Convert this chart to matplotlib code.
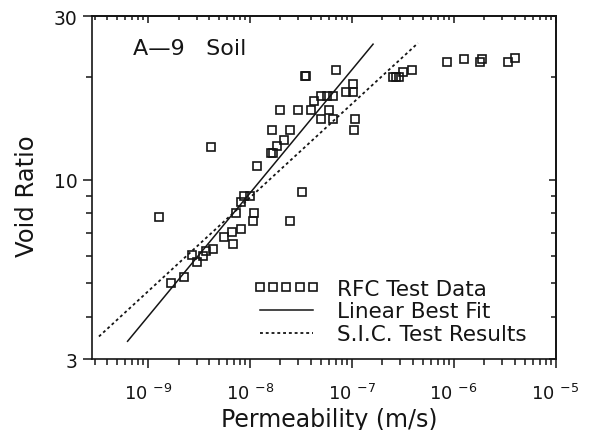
import matplotlib
matplotlib.use("Agg")
import matplotlib.pyplot as plt
from matplotlib.ticker import FixedLocator, NullFormatter, FixedFormatter

# ---------------- data ----------------
perm = [1.29e-9, 1.70e-9, 2.26e-9, 2.74e-9, 3.00e-9, 3.46e-9, 3.70e-9, 4.39e-9,
        5.56e-9, 6.89e-9, 6.74e-9, 8.11e-9, 7.38e-9, 1.09e-8, 1.07e-8, 2.49e-8,
        8.11e-9, 8.73e-9, 1.0e-8, 3.23e-8, 1.17e-8, 4.15e-9, 1.60e-8, 1.69e-8,
        1.87e-8, 2.17e-8, 1.67e-8, 2.47e-8, 1.97e-8, 2.96e-8, 4.03e-8, 5.98e-8,
        4.26e-8, 4.97e-8, 5.69e-8, 6.51e-8, 4.97e-8, 6.51e-8, 1.07e-7, 1.06e-7,
        8.87e-8, 1.02e-7, 1.02e-7, 6.97e-8, 3.50e-8, 3.60e-8, 2.52e-7, 2.70e-7,
        2.89e-7, 3.18e-7, 3.94e-7, 8.54e-7, 1.26e-6, 1.80e-6, 1.90e-6, 3.40e-6,
        3.98e-6]
void = [7.80, 5.01, 5.21, 6.03, 5.77, 5.99, 6.23, 6.31, 6.80, 6.52, 7.04, 7.20,
        8.03, 8.03, 7.60, 7.61, 8.64, 9.01, 9.01, 9.22, 10.99, 12.48, 11.99, 11.99,
        12.54, 13.08, 14.02, 14.02, 16.01, 16.01, 16.01, 16.01, 17.0, 17.53, 17.53,
        17.53, 15.04, 15.04, 15.04, 14.03, 18.0, 18.0, 18.99, 20.97, 20.03, 20.03,
        19.98, 19.98, 19.98, 20.59, 20.97, 22.0, 22.47, 22.0, 22.57, 22.1, 22.6]

fit_perm = [6.32e-10, 1.62e-7]
fit_void = [3.39, 24.87]
sic_perm = [3.31e-10, 4.47e-7]
sic_void = [3.50, 25.05]

x_major = [1e-9, 1e-8, 1e-7, 1e-6, 1e-5]
x_labels = ["10 $^{-9}$", "10 $^{-8}$", "10 $^{-7}$", "10 $^{-6}$", "10 $^{-5}$"]
y_major = [3, 10, 30]
y_labels = ["3", "10", "30"]
y_minor = [4, 5, 6, 7, 8, 9, 20]

series_labels = ["RFC Test Data", "Linear Best Fit", "S.I.C. Test Results"]
title_text = "A\u20149   Soil"

# ---------------- style ----------------
plt.rcParams['font.family'] = ['DejaVu Sans']
plt.rcParams['mathtext.default'] = 'regular'
plt.rcParams['mathtext.fontset'] = 'dejavusans'
ink = '#151515'

fig = plt.figure(figsize=(5.96, 4.31), dpi=100)
ax = fig.add_axes([0.1549, 0.1636, 0.7772, 0.7965])
ax.set_xscale('log')
ax.set_yscale('log')
ax.set_xlim(2.85e-10, 1e-5)
ax.set_ylim(3, 30)

pts, = ax.plot(perm, void, linestyle='none', marker='s', ms=5.5, mfc='none',
               mec=ink, mew=1.2, label=series_labels[0])
fitl, = ax.plot(fit_perm, fit_void, color=ink, lw=1.1, label=series_labels[1])
sicl, = ax.plot(sic_perm, sic_void, color=ink, lw=1.3, linestyle=(0, (1.6, 1.6)),
                label=series_labels[2])

for s in ax.spines.values():
    s.set_linewidth(1.2)
    s.set_color(ink)

# bottom / left ticks (outward)
ax.xaxis.set_major_locator(FixedLocator(x_major))
ax.xaxis.set_major_formatter(FixedFormatter(x_labels))
ax.yaxis.set_major_locator(FixedLocator(y_major))
ax.yaxis.set_major_formatter(FixedFormatter(y_labels))
ax.yaxis.set_minor_locator(FixedLocator(y_minor))
ax.yaxis.set_minor_formatter(NullFormatter())
ax.xaxis.set_minor_formatter(NullFormatter())
ax.tick_params(which='both', direction='out', top=False, right=False,
               color=ink, width=1.1, labelcolor=ink)
ax.tick_params(which='major', length=6.5)
ax.tick_params(which='minor', length=4)
ax.tick_params(axis='x', which='major', labelsize=13, pad=10.5)
ax.tick_params(axis='y', which='major', labelsize=13.5, pad=4)

# top / right ticks (inward)
sx = ax.secondary_xaxis('top')
sx.xaxis.set_major_locator(FixedLocator(x_major))
sx.xaxis.set_major_formatter(NullFormatter())
sx.xaxis.set_minor_formatter(NullFormatter())
sx.tick_params(which='both', direction='in', color=ink, width=1.1)
sx.tick_params(which='major', length=5)
sx.tick_params(which='minor', length=3)
sx.spines['top'].set_linewidth(1.2)

sy = ax.secondary_yaxis('right')
sy.yaxis.set_major_locator(FixedLocator(y_major))
sy.yaxis.set_minor_locator(FixedLocator(y_minor))
sy.yaxis.set_major_formatter(NullFormatter())
sy.yaxis.set_minor_formatter(NullFormatter())
sy.tick_params(which='both', direction='in', color=ink, width=1.1)
sy.tick_params(which='major', length=5)
sy.tick_params(which='minor', length=3.5)
sy.spines['right'].set_linewidth(1.2)

ax.set_xlabel("Permeability (m/s)", fontsize=17, color=ink, va='center')
ax.xaxis.set_label_coords(0.511, -0.172)
ax.set_ylabel("Void Ratio", fontsize=17.5, color=ink, va='center')
ax.yaxis.set_label_coords(-0.142, 0.48)

ax.text(0.088, 0.907, title_text, transform=ax.transAxes, fontsize=16,
        color=ink, ha='left', va='center')

leg = ax.legend(handles=[pts, fitl, sicl], loc='lower left',
                bbox_to_anchor=(0.347, 0.045), frameon=False, fontsize=15.5,
                numpoints=5, handlelength=3.1, handletextpad=0.8,
                labelspacing=0.12, borderpad=0, borderaxespad=0)
for t in leg.get_texts():
    t.set_color(ink)

fig.savefig("out.png", dpi=100)
